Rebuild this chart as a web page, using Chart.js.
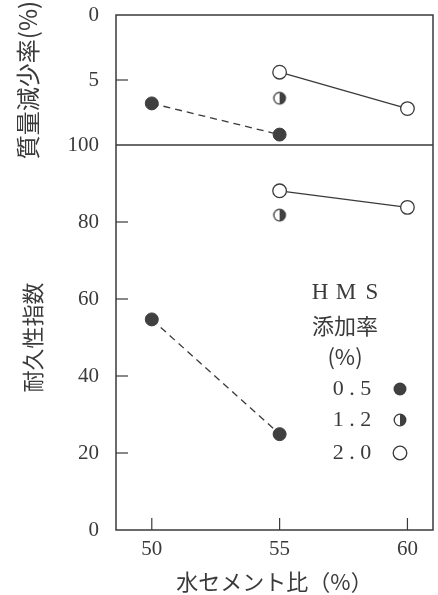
<!DOCTYPE html>
<html lang="ja">
<head>
<meta charset="utf-8">
<title>水セメント比と質量減少率・耐久性指数</title>
<script src="https://cdn.jsdelivr.net/npm/chart.js@4.4.1/dist/chart.umd.min.js"></script>
<style>
  html, body { margin: 0; padding: 0; background: #fff; }
</style>
</head>
<body>
<canvas id="grafico" width="438" height="595"></canvas>
<script>
// 水セメント比 (%)
const wcRatio = [50, 55, 60];
const xTicks = [50, 55, 60];
const lossTicks = [0, 5];
const durTicks = [0, 20, 40, 60, 80, 100];

// HMS添加率 (%) ごとの測定値、null は測定なし
const hmsRates = ['0.5', '1.2', '2.0'];
const loss05 = [6.8, 9.2, null];
const loss12 = [null, 6.4, null];
const loss20 = [null, 4.4, 7.2];
const dur05 = [54.7, 24.9, null];
const dur12 = [null, 81.8, null];
const dur20 = [null, 88.1, 83.8];

const ink = '#3a3a3a';
const dotFill = '#404040';
const serif = "'Liberation Serif', 'DejaVu Serif', serif";
const jp = "'Noto Sans CJK JP', sans-serif";

function toPoints(values) {
  return wcRatio.map((x, i) => ({ x: x, y: values[i] }));
}

// 半分塗りの丸 (右半分が黒)
function halfDot(r) {
  const c = document.createElement('canvas');
  const s = Math.ceil(r * 2 + 4);
  c.width = c.height = s;
  const g = c.getContext('2d');
  const m = s / 2;
  g.beginPath(); g.arc(m, m, r, 0, Math.PI * 2); g.fillStyle = '#fff'; g.fill();
  g.beginPath(); g.moveTo(m, m - r); g.arc(m, m, r, -Math.PI / 2, Math.PI / 2); g.closePath();
  g.fillStyle = dotFill; g.fill();
  g.beginPath(); g.arc(m, m, r, 0, Math.PI * 2); g.lineWidth = 1.3; g.strokeStyle = ink; g.stroke();
  return c;
}
const halfImg = halfDot(5.8);

const solidDot = { pointStyle: 'circle', pointRadius: 6.5, pointBackgroundColor: dotFill, pointBorderColor: dotFill, pointBorderWidth: 1 };
const openDot = { pointStyle: 'circle', pointRadius: 6.8, pointBackgroundColor: '#fff', pointBorderColor: ink, pointBorderWidth: 1.3 };
const halfMark = { pointStyle: halfImg, pointRadius: 6 };

function series(values, axis, mark, dashed) {
  return Object.assign({
    data: toPoints(values),
    yAxisID: axis,
    borderColor: ink,
    borderWidth: 1.3,
    borderDash: dashed ? [7, 5] : [],
    showLine: true,
    fill: false,
    pointHoverRadius: 6.5
  }, mark);
}

function line(ctx, x1, y1, x2, y2) {
  ctx.beginPath(); ctx.moveTo(x1, y1); ctx.lineTo(x2, y2); ctx.stroke();
}

// 目盛ラベルのはみ出し分の余白は取らない
function noOverflow(s) {
  s.paddingTop = 0; s.paddingBottom = 0;
  s.paddingLeft = 0; s.paddingRight = 0;
}

// 枠・内向き目盛・凡例
const framePlugin = {
  id: 'frame',
  afterDraw(chart) {
    const { ctx, chartArea: a, scales } = chart;
    ctx.save();
    ctx.strokeStyle = ink;
    ctx.lineWidth = 1.5;
    ctx.strokeRect(a.left, a.top, a.right - a.left, a.bottom - a.top);
    const mid = scales.yLoss.bottom;
    line(ctx, a.left, mid, a.right, mid);

    ctx.lineWidth = 1.2;
    lossTicks.forEach(v => {
      const y = scales.yLoss.getPixelForValue(v);
      if (y > a.top + 2) line(ctx, a.left, y, a.left + 12, y);
    });
    durTicks.forEach(v => {
      const y = scales.yDur.getPixelForValue(v);
      if (y > mid + 2 && y < a.bottom - 2) line(ctx, a.left, y, a.left + 12, y);
    });
    xTicks.forEach(v => {
      const x = scales.x.getPixelForValue(v);
      line(ctx, x, a.bottom, x, a.bottom - 12);
    });

    // 凡例
    const cx = a.right - 88;
    const mx = a.right - 33;
    ctx.fillStyle = ink;
    ctx.textAlign = 'center';
    ctx.textBaseline = 'middle';
    ctx.font = '23px ' + serif;
    ['H', 'M', 'S'].forEach((ch, i) => ctx.fillText(ch, cx - 25 + i * 26, mid + 148));
    ctx.font = '22px ' + jp;
    ctx.fillText('添加率', cx, mid + 181);
    ctx.fillText('(%)', cx, mid + 212);
    const rowY = [mid + 244, mid + 275, mid + 308];
    ctx.font = '22px ' + serif;
    hmsRates.forEach((r, i) => {
      ctx.fillStyle = ink;
      ctx.fillText(r.split('').join(' '), cx + 7, rowY[i]);
    });
    ctx.beginPath(); ctx.arc(mx, rowY[0], 6.5, 0, Math.PI * 2); ctx.fillStyle = dotFill; ctx.fill();
    ctx.drawImage(halfImg, mx - halfImg.width / 2, rowY[1] - halfImg.height / 2);
    ctx.beginPath(); ctx.arc(mx, rowY[2], 6.8, 0, Math.PI * 2);
    ctx.fillStyle = '#fff'; ctx.fill(); ctx.lineWidth = 1.3; ctx.stroke();
    ctx.restore();
  }
};

const tickFont = { family: serif, size: 21, lineHeight: 1.1 };

new Chart(document.getElementById('grafico'), {
  type: 'line',
  data: {
    datasets: [
      series(loss05, 'yLoss', solidDot, true),
      series(loss12, 'yLoss', halfMark, false),
      series(loss20, 'yLoss', openDot, false),
      series(dur05, 'yDur', solidDot, true),
      series(dur12, 'yDur', halfMark, false),
      series(dur20, 'yDur', openDot, false)
    ]
  },
  options: {
    responsive: false,
    animation: false,
    layout: { autoPadding: false, padding: { top: 15, right: 5, left: 0, bottom: 0 } },
    plugins: { legend: { display: false }, tooltip: { enabled: false } },
    scales: {
      x: {
        type: 'linear',
        position: 'bottom',
        min: 48.6,
        max: 61.0,
        grid: { display: false },
        border: { display: false },
        afterBuildTicks: s => { s.ticks = xTicks.map(v => ({ value: v })); },
        afterFit: s => { s.height = 65; noOverflow(s); },
        ticks: { color: ink, font: tickFont, padding: 0 },
        title: { display: true, text: '水セメント比（%）', color: ink, font: { family: jp, size: 22 }, padding: { top: 0, bottom: 0 } }
      },
      yDur: {
        type: 'linear',
        position: 'left',
        stack: 'left',
        stackWeight: 385,
        min: 0,
        max: 100,
        grid: { display: false },
        border: { display: false },
        afterBuildTicks: s => { s.ticks = durTicks.map(v => ({ value: v })); },
        afterFit: s => { s.width = 116; noOverflow(s); },
        ticks: { color: ink, font: tickFont, padding: 9 },
        title: { display: true, text: '耐久性指数', color: ink, font: { family: jp, size: 22 }, padding: { top: 19 } }
      },
      yLoss: {
        type: 'linear',
        position: 'left',
        stack: 'left',
        stackWeight: 130,
        reverse: true,
        min: 0,
        max: 10,
        grid: { display: false },
        border: { display: false },
        afterBuildTicks: s => { s.ticks = lossTicks.map(v => ({ value: v })); },
        afterFit: s => { s.width = 116; noOverflow(s); },
        ticks: { color: ink, font: tickFont, padding: 9 },
        title: { display: true, text: '質量減少率(%)', color: ink, font: { family: jp, size: 24 }, padding: { top: 13 } }
      }
    }
  },
  plugins: [framePlugin]
});
</script>
</body>
</html>
